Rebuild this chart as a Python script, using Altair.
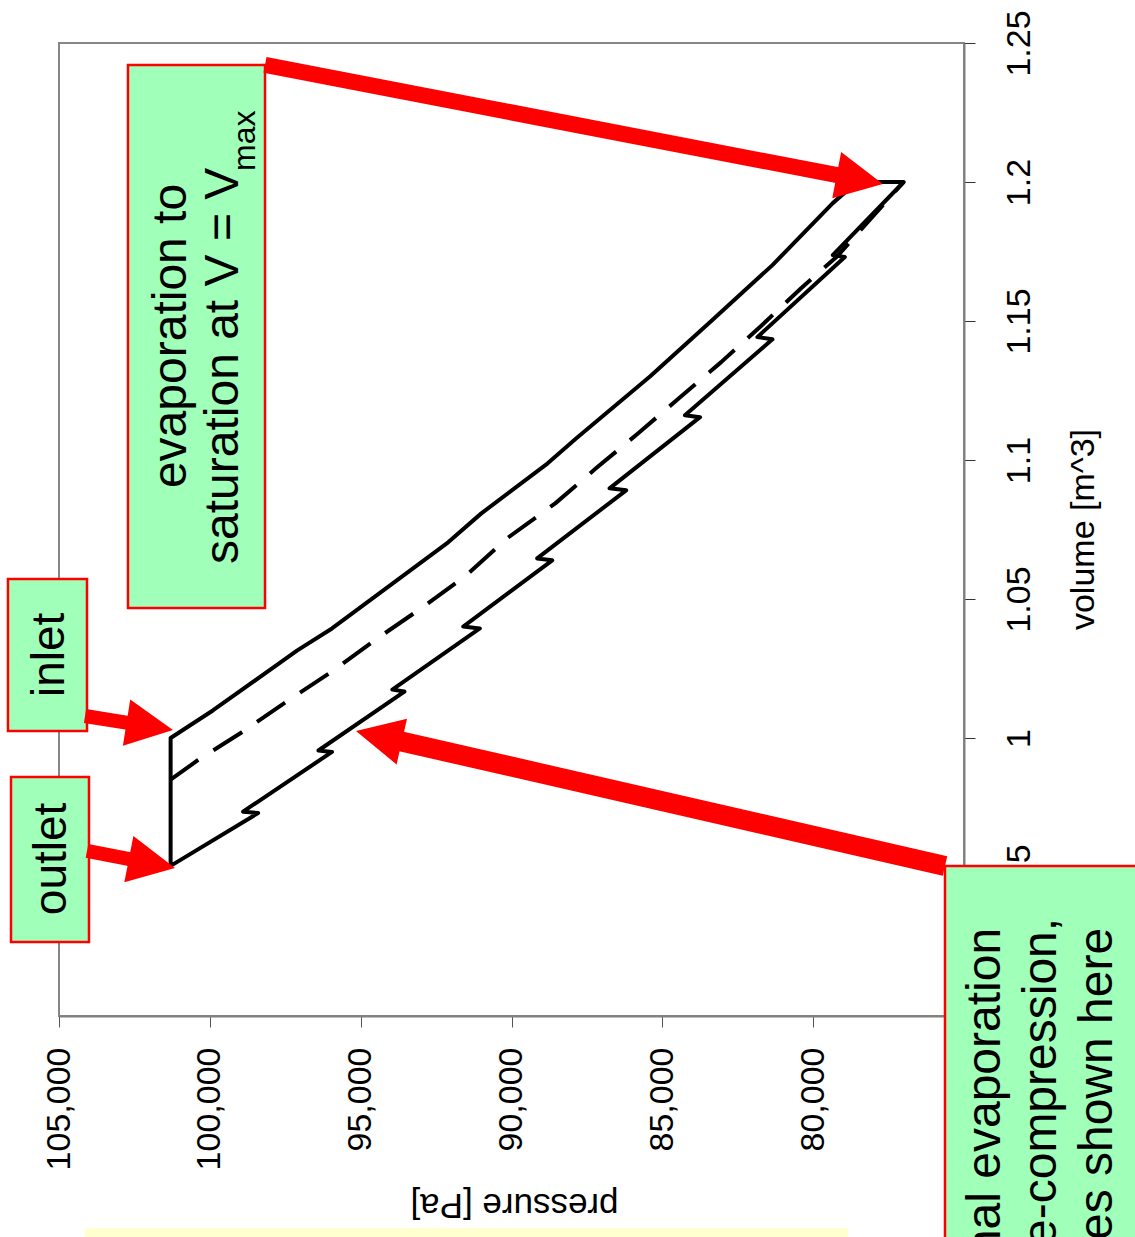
import math
import altair as alt
import pandas as pd

FONT = "Liberation Sans"
RED = "#ff0000"
GREEN = "#a0ffb8"

# plot frame (pixels) and axis ranges
W, H = 905, 973
P_MIN, P_MAX = 75000, 105000
V_MIN, V_MAX = 0.90, 1.25
pressure_ticks = [75000, 80000, 85000, 90000, 95000, 100000, 105000]
volume_ticks = [0.90, 0.95, 1.00, 1.05, 1.10, 1.15, 1.20, 1.25]

# expansion from the outlet up to V_max, with stepwise evaporation
lower_p = [101300, 98400, 98900, 95950, 96400, 93550, 93950, 91050, 91600,
           88650, 89150, 86200, 86750, 83750, 84250, 81350, 81850, 78950,
           79350, 77000]
lower_v = [0.954, 0.973, 0.9735, 0.995, 0.9955, 1.0167, 1.0174, 1.0394,
           1.0401, 1.0639, 1.0646, 1.0891, 1.0898, 1.1154, 1.1161, 1.1434,
           1.1442, 1.1730, 1.1737, 1.200]

# re-compression from V_max back down to the inlet
upper_p = [78550, 79350, 81350, 83350, 85400, 87850, 88800, 91000, 92100,
           95950, 97100, 99900, 101300]
upper_v = [1.200, 1.1924, 1.1701, 1.1503, 1.1301, 1.1078, 1.0988, 1.0808,
           1.0704, 1.0394, 1.0315, 1.0099, 1.000]

# dashed comparison path
dashed_p = [101300, 100400, 98950, 97400, 95900, 94450, 92950, 91500, 90150,
            88550, 87200, 85800, 84450, 83050, 81700, 80400, 79200, 77000]
dashed_v = [0.985, 0.992, 1.002, 1.0135, 1.0243, 1.0358, 1.047, 1.0585,
            1.0718, 1.0844, 1.097, 1.1096, 1.1222, 1.1352, 1.1485, 1.1618,
            1.1733, 1.200]

# callout boxes (pressure left/right, volume top/bottom)
box_p1 = [102713, 106691, 106591]
box_p2 = [98171, 104072, 104006]
box_v1 = [1.2421, 1.0572, 0.9860]
box_v2 = [1.0468, 1.0025, 0.9266]
note_box = {"p": 75630, "p2": 69000, "v": 0.9540, "v2": 0.7900}
strip_box = {"p": 104138, "p2": 78845, "v": 0.8237, "v2": 0.7900}

# arrows: tail and tip positions, shaft width in px
arrow_tail_p = [98171, 104138, 104072, 75630]
arrow_tail_v = [1.2421, 1.0079, 0.9594, 0.9540]
arrow_tip_p = [77690, 101221, 101155, 95155]
arrow_tip_v = [1.1993, 1.0029, 0.9532, 1.0025]
arrow_width = [16, 14, 14, 20]
HEAD_LEN = 47
HEAD_PATH = "M0,0L-1,-0.5L-1,0.5Z"

# annotation texts
vmax_text = ["evaporation to", "saturation at V = V", "max"]
vmax_p = [100790, 99070, 98503]
vmax_v = [1.0899, 1.0626, 1.2040]
vmax_size = [48, 48, 32]

port_text = ["inlet", "outlet"]
port_p = [104834, 104768]
port_v = [1.0299, 0.9565]

note_text = ["dashed line: no additional evaporation",
             "during re-compression,",
             "other cases shown here"]
note_p = [73807, 71950, 70094]
note_v = [0.9317, 0.9353, 0.9317]


def to_px(p, v):
    return ((P_MAX - p) * W / (P_MAX - P_MIN),
            (V_MAX - v) * H / (V_MAX - V_MIN))


def to_data(x, y):
    return (P_MAX - x * (P_MAX - P_MIN) / W,
            V_MAX - y * (V_MAX - V_MIN) / H)


shafts, heads = [], []
for tp, tv, hp, hv, w in zip(arrow_tail_p, arrow_tail_v, arrow_tip_p,
                             arrow_tip_v, arrow_width):
    tx, ty = to_px(tp, tv)
    hx, hy = to_px(hp, hv)
    dx, dy = hx - tx, hy - ty
    length = math.hypot(dx, dy)
    ux, uy = dx / length, dy / length
    bp, bv = to_data(hx - (HEAD_LEN - 6) * ux, hy - (HEAD_LEN - 6) * uy)
    shafts.append({"p": tp, "v": tv, "p2": bp, "v2": bv, "w": w})
    heads.append({"p": hp, "v": hv,
                  "ang": math.degrees(math.atan2(dy, dx)) % 360})

cycle = pd.DataFrame({
    "p": lower_p + upper_p + [lower_p[0]],
    "v": lower_v + upper_v + [lower_v[0]],
})
cycle["k"] = range(len(cycle))
dashed = pd.DataFrame({"p": dashed_p, "v": dashed_v})
dashed["k"] = range(len(dashed))
boxes = pd.DataFrame({"p": box_p1, "p2": box_p2, "v": box_v1, "v2": box_v2})

x_scale = alt.Scale(domain=[P_MIN, P_MAX], reverse=True, nice=False, zero=False)
y_scale = alt.Scale(domain=[V_MIN, V_MAX], nice=False, zero=False)

x_axis = alt.Axis(
    values=pressure_ticks, format=",.0f", title="pressure [Pa]", grid=False,
    labelAngle=270, labelAlign="right", labelBaseline="middle",
    labelFontSize=34, labelPadding=20, labelFlush=False, labelOverlap=False,
    labelColor="black", tickSize=11, tickColor="#555555", tickWidth=1,
    domainColor="#808080", domainWidth=2,
    titleFontSize=35, titleFontWeight="normal", titleColor="black",
    titleAngle=180, titleAlign="center", titleBaseline="middle",
    titleX=455, titleY=188,
)
y_axis = alt.Axis(
    orient="right", values=volume_ticks, format=".2~f", title="volume [m^3]",
    grid=False, labelAngle=270, labelAlign="center", labelBaseline="top",
    labelFontSize=34, labelPadding=27, labelFlush=False, labelOverlap=False,
    labelColor="black", tickSize=11, tickColor="#333333", tickWidth=1,
    domainColor="#808080", domainWidth=2,
    titleFontSize=34, titleFontWeight="normal", titleColor="black",
    titleAngle=270, titleAlign="center", titleBaseline="middle",
    titleX=119, titleY=486,
)


def X():
    return alt.X("p:Q", scale=x_scale, axis=x_axis)


def Y():
    return alt.Y("v:Q", scale=y_scale, axis=y_axis)


strip = alt.Chart(pd.DataFrame([strip_box])).mark_rect(
    fill="#ffffd0", strokeWidth=0
).encode(x=X(), x2="p2:Q", y=Y(), y2="v2:Q")

box_layer = alt.Chart(boxes).mark_rect(
    fill=GREEN, stroke=RED, strokeWidth=2.5
).encode(x=X(), x2="p2:Q", y=Y(), y2="v2:Q")

cycle_line = alt.Chart(cycle).mark_line(
    color="black", strokeWidth=4, strokeJoin="round"
).encode(x=X(), y=Y(), order="k:Q")

dashed_line = alt.Chart(dashed).mark_line(
    color="black", strokeWidth=4, strokeDash=[34, 18], strokeJoin="round"
).encode(x=X(), y=Y(), order="k:Q")

shaft_layer = alt.Chart(pd.DataFrame(shafts)).mark_rule(
    color=RED, strokeCap="butt"
).encode(x=X(), y=Y(), x2="p2:Q", y2="v2:Q",
         strokeWidth=alt.StrokeWidth("w:Q", scale=None))

head_layer = alt.Chart(pd.DataFrame(heads)).mark_point(
    shape=HEAD_PATH, filled=True, color=RED, opacity=1, strokeWidth=0,
    size=(2 * HEAD_LEN) ** 2
).encode(x=X(), y=Y(), angle=alt.Angle("ang:Q", scale=None))

note_box_layer = alt.Chart(pd.DataFrame([note_box])).mark_rect(
    fill=GREEN, stroke=RED, strokeWidth=2.5
).encode(x=X(), x2="p2:Q", y=Y(), y2="v2:Q")

vmax_layer = alt.Chart(pd.DataFrame({
    "p": vmax_p, "v": vmax_v, "label": vmax_text, "fs": vmax_size
})).mark_text(
    angle=270, align="left", baseline="alphabetic", font=FONT, color="black"
).encode(x=X(), y=Y(), text="label:N", size=alt.Size("fs:Q", scale=None))

port_layer = alt.Chart(pd.DataFrame({
    "p": port_p, "v": port_v, "label": port_text
})).mark_text(
    angle=270, align="center", baseline="alphabetic", font=FONT,
    fontSize=46, color="black"
).encode(x=X(), y=Y(), text="label:N")

note_layer = alt.Chart(pd.DataFrame({
    "p": note_p, "v": note_v, "label": note_text
})).mark_text(
    angle=270, align="right", baseline="alphabetic", font=FONT,
    fontSize=48, color="black"
).encode(x=X(), y=Y(), text="label:N")

chart = alt.layer(
    strip, box_layer, cycle_line, dashed_line, shaft_layer, head_layer,
    note_box_layer, vmax_layer, port_layer, note_layer
).properties(
    width=W, height=H,
    autosize=alt.AutoSizeParams(type="none"),
    padding={"left": 59, "top": 43, "right": 171, "bottom": 221},
    background="white",
).configure_view(
    stroke="#868686", strokeWidth=2
).configure_axis(
    labelFont=FONT, titleFont=FONT
)

chart.save("out.html", embed_options={"renderer": "svg", "actions": False})
